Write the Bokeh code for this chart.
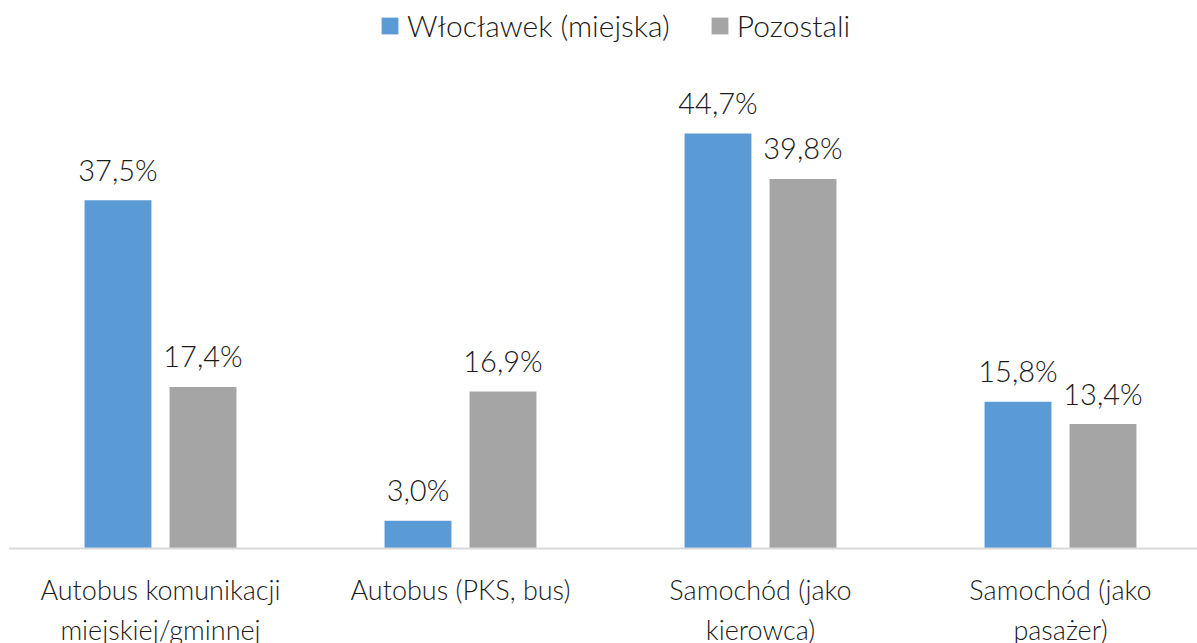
import numpy as np
from bokeh.plotting import figure
from bokeh.models import ColumnDataSource, Span, Legend, LegendItem, Range1d
from bokeh.core.properties import value
from bokeh.embed import file_html
from bokeh.resources import INLINE

categories = ["Autobus komunikacji\nmiejskiej/gminnej", "Autobus (PKS, bus)",
              "Samochód (jako\nkierowca)", "Samochód (jako\npasażer)"]
series_names = ["Włocławek (miejska)", "Pozostali"]
wloclawek = [37.5, 3.0, 44.7, 15.8]
pozostali = [17.4, 16.9, 39.8, 13.4]
colors = ["#5B9BD5", "#A5A5A5"]

FONT_NAME = "Lato Light"
FONT = value(FONT_NAME)
TXT = "#1a1a1a"

W, H = 1197, 643
LEFT = 8
p = figure(width=W, height=H, output_backend="svg", toolbar_location=None,
           x_axis_type=None, y_axis_type=None,
           x_range=Range1d(-2 / 300, (W - 10) / 300),
           y_range=Range1d(-95 / 9.284, 548 / 9.284),
           min_border=0, min_border_left=LEFT, outline_line_color=None)
p.grid.visible = False
p.background_fill_color = "white"

xc = np.arange(len(categories)) + 0.5
offsets = [-0.1417, 0.1417]
renderers = []
for vals, off, col in zip([wloclawek, pozostali], offsets, colors):
    src = ColumnDataSource(dict(x=xc + off, top=vals,
                                lab=[f"{v:.1f}%".replace(".", ",") for v in vals]))
    r = p.vbar(x="x", top="top", width=0.223, bottom=0, source=src,
               fill_color=col, line_color=None)
    renderers.append(r)
    p.text(x="x", y="top", text="lab", source=src, text_align="center",
           text_baseline="alphabetic", y_offset=-31, text_font=FONT,
           text_font_size="29px", text_color=TXT)

p.add_layout(Span(location=0, dimension="width", line_color="#d9d9d9", line_width=2))

csrc = ColumnDataSource(dict(x=xc, y=[0] * len(categories), t=categories))
p.text(x="x", y="y", text="t", source=csrc, text_align="center",
       text_baseline="top", y_offset=24, text_font=FONT, text_font_size="27px",
       text_color=TXT, text_line_height=1.22)

legend = Legend(items=[LegendItem(label=n, renderers=[r]) for n, r in zip(series_names, renderers)],
                orientation="horizontal", location=(379 - LEFT, 600),
                glyph_width=21, glyph_height=21, label_standoff=7, spacing=39,
                padding=0, margin=0, border_line_color=None, background_fill_alpha=0,
                label_text_font=FONT_NAME, label_text_font_size="30px", label_text_color=TXT)
p.add_layout(legend, "center")

open("out.html", "w").write(file_html(p, INLINE))
